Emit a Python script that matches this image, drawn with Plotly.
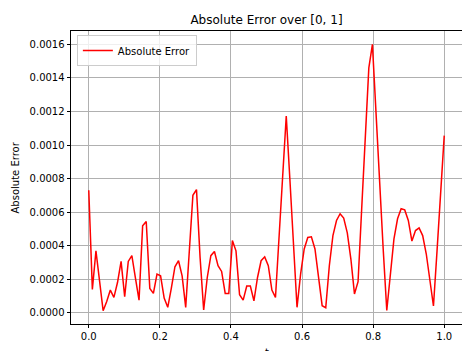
import numpy as np
import plotly.graph_objects as go

# Sample positions (100 points over [0, 1])
t = np.linspace(0, 1, 100)

# Absolute error values
abs_error = [
    0.00073, 0.000139, 0.000369, 0.00019, 0.000012, 0.000067, 0.000135, 0.000091, 0.00018, 0.000306,
    0.000095, 0.000306, 0.00034, 0.000206, 0.000075, 0.000518, 0.000544, 0.000145, 0.000115, 0.00023,
    0.00022, 0.000087, 0.000032, 0.000147, 0.000274, 0.00031, 0.00022, 0.000032, 0.000369, 0.0007,
    0.000734, 0.00033, 0.000016, 0.00021, 0.00034, 0.000365, 0.00028, 0.000246, 0.000115, 0.000115,
    0.00043, 0.000369, 0.000107, 0.000075, 0.000159, 0.000159, 0.000071, 0.00021, 0.00031, 0.000333,
    0.00028, 0.000135, 0.000091, 0.00047, 0.00085, 0.001173, 0.0008, 0.00043, 0.000032, 0.00023,
    0.00038, 0.000449, 0.000453, 0.00038, 0.00021, 0.000042, 0.00003, 0.00028, 0.00046, 0.00055,
    0.00059, 0.000564, 0.000476, 0.00032, 0.000112, 0.000185, 0.000615, 0.00104, 0.00146, 0.0016,
    0.00117, 0.00078, 0.00038, 0.000014, 0.00024, 0.00044, 0.00056, 0.00062, 0.000613, 0.00055,
    0.000427, 0.00049, 0.000506, 0.00046, 0.00035, 0.0002, 0.00004, 0.00037, 0.00072, 0.001056,
]

x_ticks = [0.0, 0.2, 0.4, 0.6, 0.8, 1.0]
y_ticks = [0.0, 0.0002, 0.0004, 0.0006, 0.0008, 0.0010, 0.0012, 0.0014, 0.0016]

title_text = "Absolute Error over [0, 1]"
series_name = "Absolute Error"
x_label = "t"
y_label = "Absolute Error"

FONT = "DejaVu Sans"

fig = go.Figure()
fig.add_trace(go.Scatter(
    x=t, y=abs_error, mode="lines", name=series_name,
    line=dict(color="#ff0000", width=1.5),
    showlegend=True,
))

W, H = 462, 351
L, R, T, B = 71, 0, 31, 27

axis_common = dict(
    showgrid=True, gridcolor="#b0b0b0", gridwidth=0.8,
    showline=True, linecolor="black", linewidth=0.8, mirror=True,
    ticks="outside", ticklen=3.5, tickwidth=0.8, tickcolor="black",
    zeroline=False, automargin=False,
    tickfont=dict(family=FONT, size=10, color="black"),
)

fig.update_layout(
    template="none",
    width=W, height=H,
    margin=dict(l=L, r=R, t=T, b=B, autoexpand=False),
    paper_bgcolor="white", plot_bgcolor="white",
    font=dict(family=FONT, size=10, color="black"),
    xaxis=dict(range=[-0.05, 1.05], tickvals=x_ticks,
               ticktext=[f"{v:.1f}" for v in x_ticks], **axis_common),
    yaxis=dict(range=[-0.0000674, 0.00168], tickvals=y_ticks,
               ticktext=[f"{v:.4f}" for v in y_ticks], **axis_common),
    showlegend=True,
    legend=dict(
        x=0.015, y=0.986, xanchor="left", yanchor="top",
        bgcolor="rgba(255,255,255,0.8)", bordercolor="#cccccc", borderwidth=1,
        font=dict(family=FONT, size=10, color="black"),
        itemwidth=30, tracegroupgap=0,
    ),
    title=dict(text=title_text, x=0.5, xref="paper", xanchor="center",
               y=1 - 20 / H, yref="container", yanchor="middle",
               font=dict(family=FONT, size=12, color="black")),
    annotations=[
        dict(text=y_label, xref="paper", yref="paper",
             x=(15 - L) / (W - L - R), y=0.5, textangle=-90,
             showarrow=False, xanchor="center", yanchor="middle",
             font=dict(family=FONT, size=10, color="black")),
        dict(text=x_label, xref="paper", yref="paper",
             x=0.5, y=-(345 - (H - B)) / (H - T - B),
             showarrow=False, xanchor="center", yanchor="top",
             font=dict(family=FONT, size=10, color="black")),
    ],
)

fig.write_html(
    "out.html",
    config={"displayModeBar": False},
    post_script="document.body.style.margin='0';document.body.style.overflow='hidden';",
)
